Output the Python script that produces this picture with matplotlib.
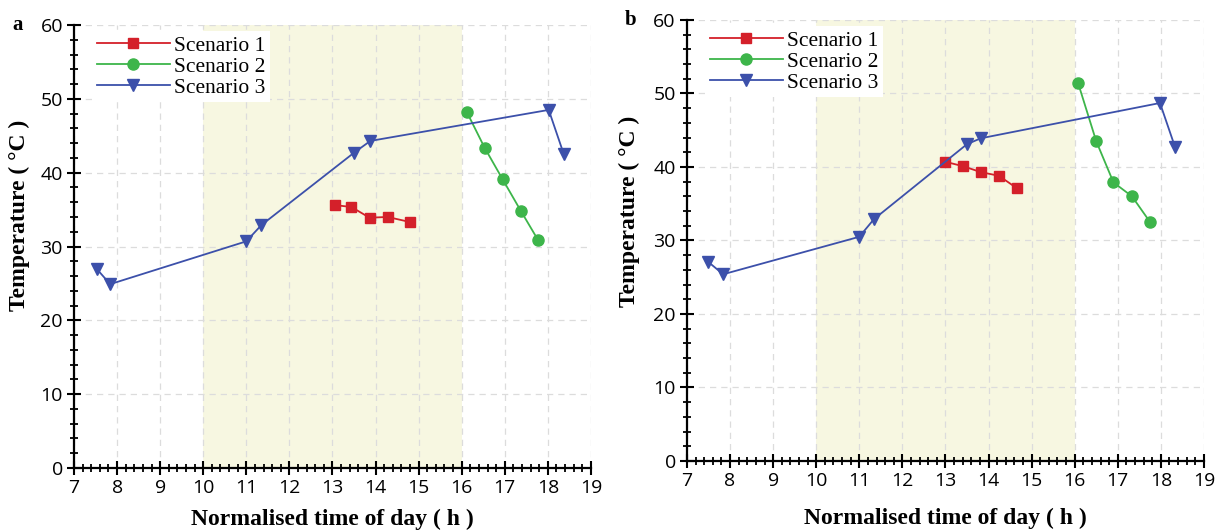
import numpy as np
import matplotlib.pyplot as plt
from matplotlib.ticker import MultipleLocator

# panel a
a_s1_x = [13.07, 13.44, 13.86, 14.28, 14.81]
a_s1_y = [35.6, 35.35, 33.9, 34.0, 33.3]
a_s2_x = [16.12, 16.53, 16.95, 17.37, 17.77]
a_s2_y = [48.2, 43.4, 39.1, 34.85, 30.9]
a_s3_x = [7.53, 7.84, 11.0, 11.35, 13.5, 13.88, 18.02, 18.37]
a_s3_y = [26.95, 24.9, 30.7, 32.9, 42.7, 44.3, 48.5, 42.5]

# panel b
b_s1_x = [13.0, 13.41, 13.82, 14.24, 14.66]
b_s1_y = [40.7, 40.1, 39.3, 38.8, 37.1]
b_s2_x = [16.08, 16.5, 16.9, 17.33, 17.75]
b_s2_y = [51.4, 43.5, 37.9, 36.0, 32.5]
b_s3_x = [7.49, 7.84, 11.0, 11.34, 13.5, 13.82, 17.98, 18.33]
b_s3_y = [27.1, 25.4, 30.5, 32.9, 43.1, 43.9, 48.7, 42.7]

names = ['Scenario 1', 'Scenario 2', 'Scenario 3']
colors = ['#D4202A', '#3DB54A', '#3C50AA']
markers = ['s', 'o', 'v']
msizes = [7, 8, 8.5]
shade = (10, 16)

tick_font = 'Open Sans'
serif = 'Liberation Serif'

fig = plt.figure(figsize=(12.25, 5.32), dpi=100)
ax_a = fig.add_axes([0.0604, 0.1203, 0.422, 0.8327])
ax_b = fig.add_axes([0.5608, 0.1335, 0.422, 0.829])

# axes, tag, data, xlabel pad, ylabel position (axes coords)
panels = [
    (ax_a, 'a', [(a_s1_x, a_s1_y), (a_s2_x, a_s2_y), (a_s3_x, a_s3_y)], 8.5, (-0.085, 0.57)),
    (ax_b, 'b', [(b_s1_x, b_s1_y), (b_s2_x, b_s2_y), (b_s3_x, b_s3_y)], 13.0, (-0.091, 0.565)),
]

for ax, tag, series, xpad, ypos in panels:
    ax.axvspan(shade[0], shade[1], color='#F7F7E1', zorder=0, lw=0)
    for (x, y), name, c, m, ms in zip(series, names, colors, markers, msizes):
        ax.plot(x, y, color=c, marker=m, ms=ms, lw=1.3, label=name, zorder=3)
    ax.set_xlim(7, 19)
    ax.set_ylim(0, 60)
    ax.xaxis.set_major_locator(MultipleLocator(1))
    ax.xaxis.set_minor_locator(MultipleLocator(0.2))
    ax.yaxis.set_major_locator(MultipleLocator(10))
    ax.yaxis.set_minor_locator(MultipleLocator(2))
    ax.grid(which='major', ls=(0, (5, 4)), color='#DCDCDC', lw=0.9, zorder=1)
    ax.set_axisbelow(True)
    for s in ('top', 'right'):
        ax.spines[s].set_visible(False)
    for s in ('left', 'bottom'):
        ax.spines[s].set_linewidth(1.6)
        ax.spines[s].set_zorder(4)
    ax.tick_params(which='major', direction='inout', length=10, width=1.5,
                   labelsize=14, pad=3)
    ax.tick_params(which='minor', direction='inout', length=6, width=1.3)
    for lbl in ax.get_xticklabels() + ax.get_yticklabels():
        lbl.set_fontfamily(tick_font)
    ax.set_xlabel('Normalised time of day ( h )', fontfamily=serif,
                  fontweight='bold', fontsize=17, labelpad=xpad)
    ax.set_ylabel('Temperature ( °C )', fontfamily=serif,
                  fontweight='bold', fontsize=17)
    ax.yaxis.set_label_coords(*ypos)
    leg = ax.legend(loc='upper left', bbox_to_anchor=(0.015, 1.01), frameon=True,
                    fancybox=False, edgecolor='none', framealpha=1,
                    handlelength=3.4, handletextpad=0.2, labelspacing=0.05,
                    borderpad=0.2, prop={'family': serif, 'size': 15.5})
    leg.set_zorder(5)
    ax.text(-0.12, 1.0, tag, transform=ax.transAxes, fontfamily=serif,
            fontweight='bold', fontsize=15, ha='left', va='center')

fig.savefig('out.png', dpi=100)
